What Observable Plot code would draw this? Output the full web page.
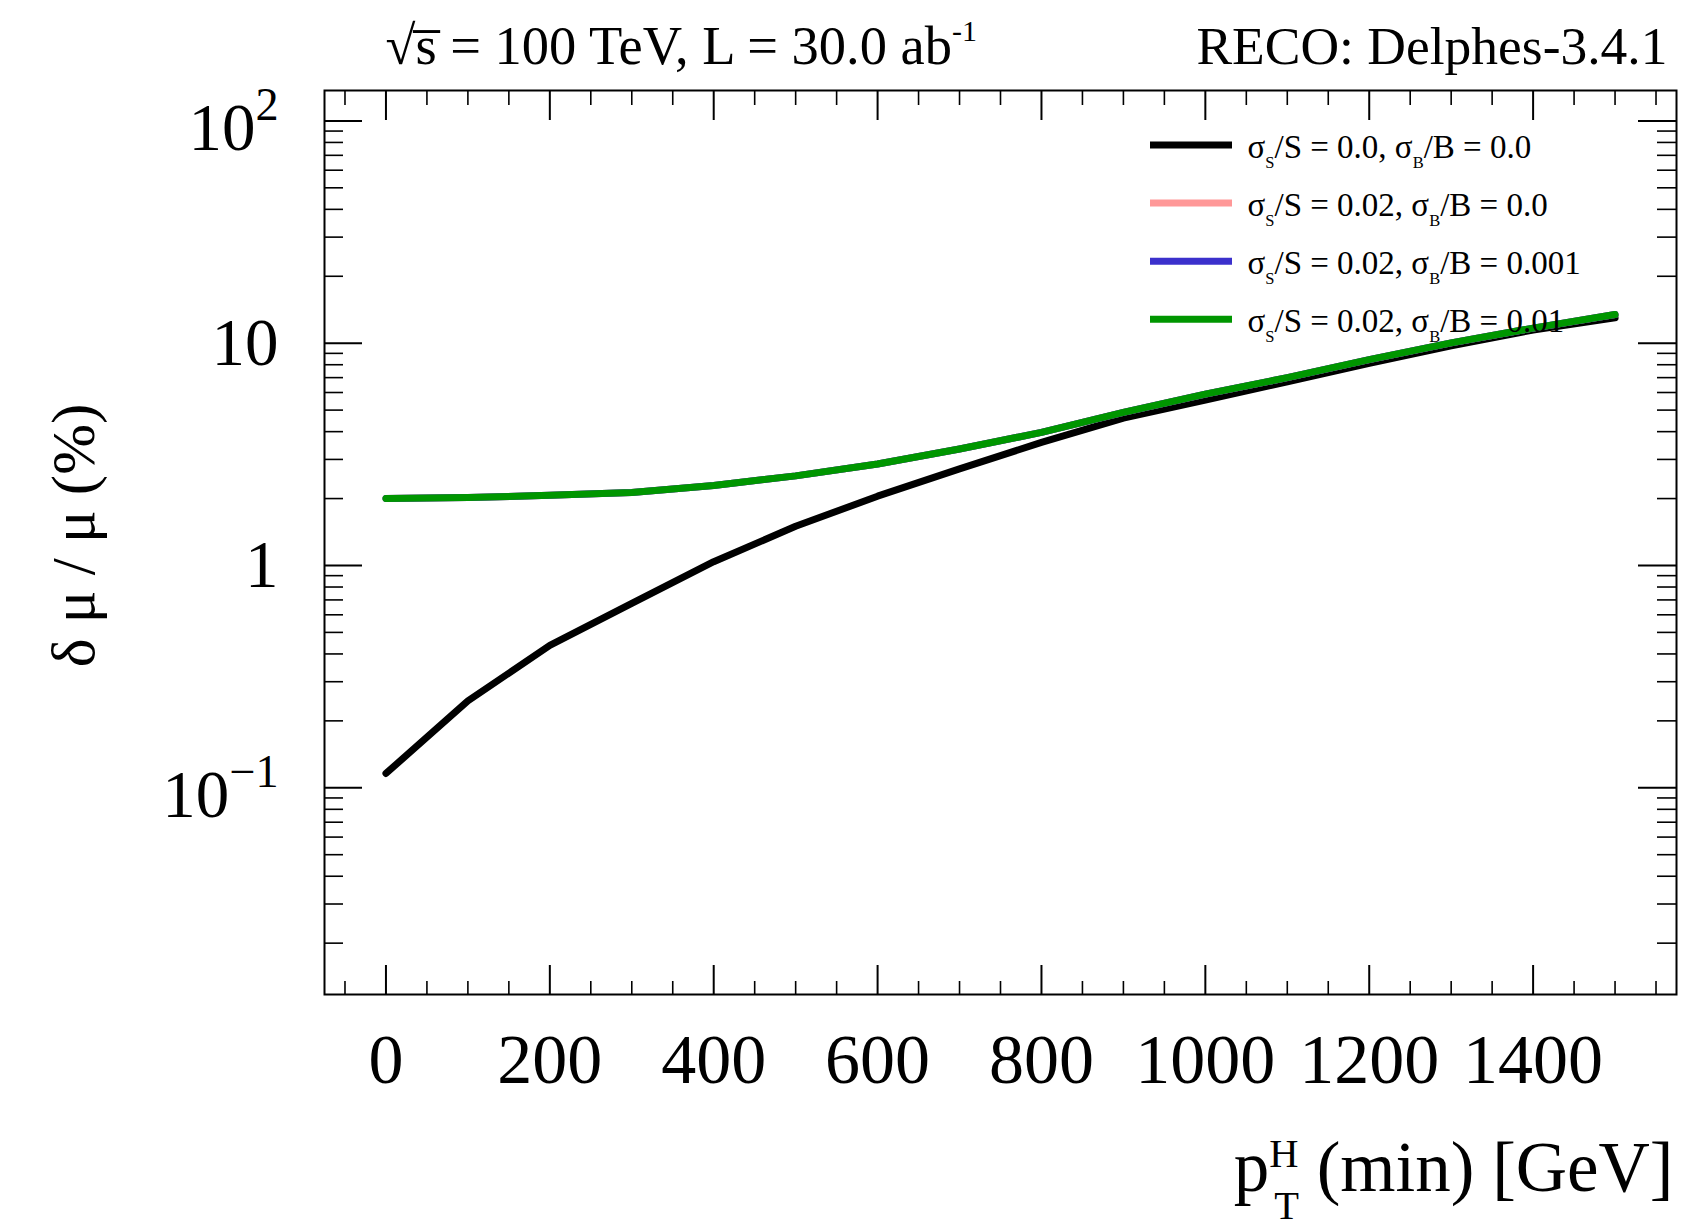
<!DOCTYPE html>
<html>
<head>
<meta charset="utf-8">
<script src="https://cdn.jsdelivr.net/npm/d3@7"></script>
<script src="https://cdn.jsdelivr.net/npm/@observablehq/plot@0.6"></script>
<style>
html, body { margin: 0; padding: 0; background: #ffffff; }
#chart { width: 1690px; height: 1222px; }
</style>
</head>
<body>
<div id="chart"></div>
<script>
// ---------------- data ----------------
const pT = [0, 100, 200, 300, 400, 500, 600, 700, 800, 900, 1000, 1100, 1200, 1300, 1400, 1500];
const sigS000_sigB0000 = [0.116, 0.246, 0.437, 0.675, 1.04, 1.50, 2.05, 2.72, 3.58, 4.60, 5.54, 6.70, 8.12, 9.74, 11.46, 13.0];
const sigS002_sigB0000 = [2.0, 2.02, 2.07, 2.13, 2.29, 2.53, 2.86, 3.34, 3.97, 4.88, 5.9, 7.0, 8.43, 10.03, 11.69, 13.45];
const sigS002_sigB0001 = [2.0, 2.02, 2.07, 2.13, 2.29, 2.53, 2.86, 3.34, 3.97, 4.88, 5.9, 7.0, 8.43, 10.03, 11.69, 13.45];
const sigS002_sigB0010 = [2.0, 2.02, 2.07, 2.13, 2.29, 2.53, 2.86, 3.34, 3.97, 4.88, 5.9, 7.0, 8.43, 10.03, 11.69, 13.45];

const seriesNames = ["s0_b0", "s002_b0", "s002_b0001", "s002_b001"];
const seriesValues = [sigS000_sigB0000, sigS002_sigB0000, sigS002_sigB0001, sigS002_sigB0010];
const seriesColors = ["#000000", "#ff9898", "#3b30cc", "#009600"];
const legendLabels = [
  "σ_{S}/S = 0.0, σ_{B}/B = 0.0",
  "σ_{S}/S = 0.02, σ_{B}/B = 0.0",
  "σ_{S}/S = 0.02, σ_{B}/B = 0.001",
  "σ_{S}/S = 0.02, σ_{B}/B = 0.01"
];

const xMajorTicks = [0, 200, 400, 600, 800, 1000, 1200, 1400];
const xMinorTicks = [-50, 50, 100, 150, 250, 300, 350, 450, 500, 550, 650, 700, 750, 850, 900, 950,
                     1050, 1100, 1150, 1250, 1300, 1350, 1450, 1500, 1550];
const yMajorTicks = [0.1, 1, 10, 100];
const yTickLabels = ["10^{−1}", "1", "10", "10^{2}"];
const yMinorTicks = [0.02, 0.03, 0.04, 0.05, 0.06, 0.07, 0.08, 0.09,
                     0.2, 0.3, 0.4, 0.5, 0.6, 0.7, 0.8, 0.9,
                     2, 3, 4, 5, 6, 7, 8, 9,
                     20, 30, 40, 50, 60, 70, 80, 90];

const titleLeft = "√s\u0305 = 100 TeV, L = 30.0 ab^{-1}";
const titleRight = "RECO: Delphes-3.4.1";
const xLabel = "p^{H}_{T} (min) [GeV]";
const yLabel = "δ μ / μ (%)";

// ---------------- layout ----------------
const W = 1690, H = 1222;
const mL = 324, mR = 14, mT = 90, mB = 228;
const fw = W - mL - mR, fh = H - mT - mB;
const serif = "'Liberation Serif', 'Times New Roman', Times, serif";

const table = [];
seriesNames.forEach((s, i) => pT.forEach((x, j) => table.push({series: s, pt: x, v: seriesValues[i][j]})));

const legendSwatches = (index, scales, values, dims) => {
  const g = d3.create("svg:g").attr("aria-label", "legend swatches");
  seriesNames.forEach((s, i) => {
    const yy = dims.marginTop + 55 + i * 58.1;
    g.append("line")
      .attr("x1", dims.marginLeft + 826).attr("x2", dims.marginLeft + 908)
      .attr("y1", yy).attr("y2", yy)
      .attr("stroke", seriesColors[i]).attr("stroke-width", 7);
  });
  return g.node();
};

const tickStyle = {stroke: "black", strokeWidth: 2};
const lineMarks = seriesNames.map((s, i) =>
  Plot.line(table.filter(d => d.series === s), {x: "pt", y: "v", stroke: seriesColors[i], strokeWidth: 7, strokeLinejoin: "round"})
);
const legendTexts = legendLabels.map((t, i) =>
  Plot.text([t], {text: d => d, frameAnchor: "top-left", dx: 923, dy: 67.3 + i * 58.2,
    textAnchor: "start", lineAnchor: "bottom", fontSize: 33, fill: "black"})
);

const svg = Plot.plot({
  width: W, height: H,
  marginLeft: mL, marginRight: mR, marginTop: mT, marginBottom: mB,
  style: {fontFamily: serif, background: "white", color: "black", overflow: "visible"},
  x: {domain: [-75, 1575]},
  y: {type: "log", domain: [0.01175, 137]},
  marks: [
    // in-frame ticks (ROOT style), placed by the scales
    Plot.tickX(xMinorTicks, {x: d => d, insetTop: fh - 13, ...tickStyle, strokeWidth: 1.6}),
    Plot.tickX(xMajorTicks, {x: d => d, insetTop: fh - 29, ...tickStyle}),
    Plot.tickX(xMinorTicks, {x: d => d, insetBottom: fh - 15, ...tickStyle, strokeWidth: 1.6}),
    Plot.tickX(xMajorTicks, {x: d => d, insetBottom: fh - 30, ...tickStyle}),
    Plot.tickY(yMinorTicks, {y: d => d, insetRight: fw - 19, ...tickStyle, strokeWidth: 1.6}),
    Plot.tickY(yMajorTicks, {y: d => d, insetRight: fw - 38, ...tickStyle}),
    Plot.tickY(yMinorTicks, {y: d => d, insetLeft: fw - 19, ...tickStyle, strokeWidth: 1.6}),
    Plot.tickY(yMajorTicks, {y: d => d, insetLeft: fw - 38, ...tickStyle}),
    // tick labels
    Plot.axisX({ticks: xMajorTicks, tickSize: 0, tickPadding: 39, fontSize: 70, label: null, fill: "black",
      tickFormat: d => String(d)}),
    Plot.axisY({ticks: [1, 10], tickSize: 0, tickPadding: 46, fontSize: 67, label: null, fill: "black",
      tickFormat: d => yTickLabels[yMajorTicks.indexOf(d)]}),
    Plot.axisY({ticks: [0.1, 100], tickSize: 0, tickPadding: 46, fontSize: 67, label: null, fill: "black", dy: 8,
      tickFormat: d => yTickLabels[yMajorTicks.indexOf(d)]}),
    // curves
    ...lineMarks,
    Plot.frame({stroke: "black", strokeWidth: 2}),
    // legend
    legendSwatches,
    ...legendTexts,
    // titles and axis labels
    Plot.text([titleLeft], {text: d => d, frameAnchor: "top-left", dx: 61, dy: -27, textAnchor: "start",
      lineAnchor: "bottom", fontSize: 54.5, fill: "black"}),
    Plot.text([titleRight], {text: d => d, frameAnchor: "top-right", dx: -9, dy: -27, textAnchor: "end",
      lineAnchor: "bottom", fontSize: 53.5, fill: "black"}),
    Plot.text([xLabel], {text: d => d, frameAnchor: "bottom-right", dx: -3, dy: 196, textAnchor: "end",
      lineAnchor: "bottom", fontSize: 71, fill: "black"}),
    Plot.text([yLabel], {text: d => d, frameAnchor: "left", dx: 74 - mL, dy: -7, rotate: -90,
      textAnchor: "middle", lineAnchor: "middle", fontSize: 61, fill: "black"})
  ]
});

document.getElementById("chart").append(svg);

// ---------------- sub/superscript rendering ----------------
const svgNS = "http://www.w3.org/2000/svg";
const richOpts = {
  ytick: {supSize: 0.69, supRaise: 0.45},
  title: {supSize: 0.55, supRaise: 0.42},
  legend: {subSize: 0.5, subDrop: 0.3},
  xlabel: {supSize: 0.57, supRaise: 0.33, subSize: 0.57, subDrop: 0.40, stack: true, stackDx: 0.07}
};
function optsFor(raw) {
  if (raw === xLabel) return richOpts.xlabel;
  if (raw === titleLeft) return richOpts.title;
  if (legendLabels.includes(raw)) return richOpts.legend;
  return richOpts.ytick;
}
svg.querySelectorAll("text").forEach(t => {
  const raw = t.textContent;
  if (!/[\^_]\{/.test(raw)) return;
  const opts = optsFor(raw);
  const fs = parseFloat(getComputedStyle(t).fontSize);
  const re = /([\^_])\{([^}]*)\}/g;
  const tokens = [];
  let last = 0, m;
  while ((m = re.exec(raw))) {
    if (m.index > last) tokens.push({type: "n", s: raw.slice(last, m.index)});
    tokens.push({type: m[1], s: m[2]});
    last = re.lastIndex;
  }
  if (last < raw.length) tokens.push({type: "n", s: raw.slice(last)});
  t.textContent = "";
  let shift = 0;
  tokens.forEach(tok => {
    const ts = document.createElementNS(svgNS, "tspan");
    let target = 0, size = fs;
    if (tok.type === "^") { target = -opts.supRaise * fs; size = opts.supSize * fs; }
    else if (tok.type === "_") { target = opts.subDrop * fs; size = opts.subSize * fs; }
    ts.setAttribute("dy", (target - shift).toFixed(2));
    shift = target;
    ts.setAttribute("font-size", size.toFixed(2));
    ts.textContent = tok.s;
    t.appendChild(ts);
    tok.el = ts;
  });
  if (opts.stack) {
    for (let i = 1; i < tokens.length; i++) {
      if (tokens[i].type === "_" && tokens[i - 1].type === "^") {
        const wSup = tokens[i - 1].el.getComputedTextLength();
        const wSub = tokens[i].el.getComputedTextLength();
        const off = opts.stackDx * fs;
        tokens[i].el.setAttribute("dx", (-wSup + off).toFixed(2));
        if (tokens[i + 1]) tokens[i + 1].el.setAttribute("dx", Math.max(0, wSup - off - wSub).toFixed(2));
      }
    }
  }
});
</script>
</body>
</html>
